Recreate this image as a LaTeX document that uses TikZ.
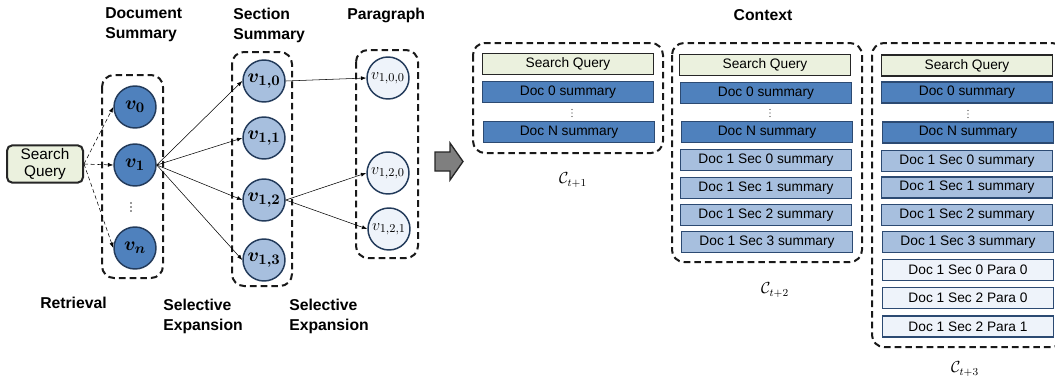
\documentclass[tikz,border=0pt]{standalone}
\usepackage{amsmath,amssymb,bm}
\usepackage{fontspec}
\setmainfont{Liberation Sans}
\usetikzlibrary{arrows.meta,positioning,calc}
\definecolor{sqfill}{HTML}{EBF1DE}
\definecolor{docfill}{HTML}{4F81BD}
\definecolor{secfill}{HTML}{A7BFDE}
\definecolor{parafill}{HTML}{EEF3FA}
\definecolor{rowdraw}{HTML}{2C4A72}
\definecolor{arrowgray}{HTML}{7F7F7F}
\tikzset{
  title/.style={font=\fontsize{11.8}{15}\selectfont\bfseries, align=left, anchor=north west, inner sep=0pt},
  dbox/.style={draw=black!90, line width=1.5pt, dash pattern=on 5pt off 3pt, rounded corners=9pt},
  circ/.style={circle, minimum size=31.5pt, inner sep=0pt, line width=1.1pt, draw=rowdraw!80!black, font=\fontsize{15}{16}\selectfont},
  dcirc/.style={circ, fill=docfill},
  scirc/.style={circ, fill=secfill},
  pcirc/.style={circ, fill=parafill, font=\fontsize{13}{14}\selectfont},
  row/.style={rectangle, minimum width=128pt, minimum height=16pt, inner sep=0pt, line width=1.1pt, draw=rowdraw, font=\fontsize{10.3}{11}\selectfont},
  sqrow/.style={row, fill=sqfill, draw=black!85},
  docrow/.style={row, fill=docfill},
  secrow/.style={row, fill=secfill},
  pararow/.style={row, fill=parafill},
  dashedge/.style={densely dashed, thin, -{Latex[length=4pt,width=3pt]}},
  solidedge/.style={thin, -{Latex[length=4pt,width=3pt]}},
  clabel/.style={font=\large, inner sep=0pt},
  dot/.style={fill=black!80}
}
\begin{document}
\begin{tikzpicture}[x=0.75pt,y=-0.75pt]
\useasboundingbox[fill=white] (0,0) rectangle (1055,379);

% ---------- titles ----------
\node[title] (tdoc) at (105,7) {Document\\Summary};
\node[title] (tsec) at (233,8) {Section\\Summary};
\node[title] (tpara) at (347,8) {Paragraph};
\node[title] (tret) at (40,297) {Retrieval};
\node[title] (tse1) at (163,299) {Selective\\Expansion};
\node[title] (tse2) at (289,299) {Selective\\Expansion};
\node[font=\fontsize{11.8}{15}\selectfont\bfseries, inner sep=0pt] (tctx) at (763,15) {Context};

% ---------- dashed groups (left) ----------
\draw[dbox] (102,75) rectangle (163,278);
\draw[dbox] (232,52) rectangle (292,286);
\draw[dbox] (356,50) rectangle (418,258);

% ---------- search query ----------
\node[rectangle, rounded corners=4pt, draw=black!85, line width=1.5pt, fill=sqfill,
      minimum width=57pt, minimum height=28pt, align=center, inner sep=0pt,
      font=\fontsize{11.5}{13}\selectfont] (sq) at (45,164) {Search\\Query};

% ---------- document nodes ----------
\node[dcirc] (v0) at (135,107) {$\bm{v}_{\bm{0}}$};
\node[dcirc] (v1) at (135,165) {$\bm{v}_{\bm{1}}$};
\coordinate (vd) at (131,207);
\foreach \dy in {-4,0,4} \fill[dot] ($(vd)+(0,\dy)$) circle (0.6pt);
\node[dcirc] (vn) at (135,248) {$\bm{v}_{\bm{n}}$};

% ---------- section nodes ----------
\node[scirc] (v10) at (264,81) {$\bm{v}_{\bm{1,0}}$};
\node[scirc] (v11) at (264,138) {$\bm{v}_{\bm{1,1}}$};
\node[scirc] (v12) at (264,200) {$\bm{v}_{\bm{1,2}}$};
\node[scirc] (v13) at (264,260) {$\bm{v}_{\bm{1,3}}$};

% ---------- paragraph nodes ----------
\node[pcirc] (v100) at (388,78) {$v_{1,0,0}$};
\node[pcirc] (v120) at (388,173) {$v_{1,2,0}$};
\node[pcirc] (v121) at (389,229) {$v_{1,2,1}$};

% ---------- edges ----------
\draw[dashedge] (sq.east) -- (v0.west);
\draw[dashedge] (sq.east) -- (v1.west);
\draw[dashedge] (sq.east) -- (vn.west);
\draw[solidedge] (v1.east) -- (v10.west);
\draw[solidedge] (v1.east) -- (v11.west);
\draw[solidedge] (v1.east) -- (v12.west);
\draw[solidedge] (v1.east) -- (v13.west);
\draw[solidedge] (v10.east) -- (v100.west);
\draw[solidedge] (v12.east) -- (v120.west);
\draw[solidedge] (v12.east) -- (v121.west);

% ---------- block arrow ----------
\draw[fill=arrowgray, draw=black!85, line width=1pt, line join=miter]
  (435,152) -- (450,152) -- (450,143) -- (463,161.5) -- (450,180) -- (450,171) -- (435,171) -- cycle;

% ---------- context C_{t+1} ----------
\draw[dbox] (473,43) rectangle (663,153);
\node[sqrow] (a0) at (568,64) {Search Query};
\node[docrow] (a1) at (568,92) {Doc 0 summary};
\coordinate (ad) at (572,113);
\foreach \dy in {-3.5,0,3.5} \fill[dot] ($(ad)+(0,\dy)$) circle (0.5pt);
\node[docrow] (a2) at (569,132) {Doc N summary};
\node[clabel] (ca) at (573,180) {$\mathcal{C}_{t+1}$};

% ---------- context C_{t+2} ----------
\draw[dbox] (672,43) rectangle (862,262);
\node[sqrow] (b0) at (765,65) {Search Query};
\node[docrow] (b1) at (766,93) {Doc 0 summary};
\coordinate (bd) at (770,113);
\foreach \dy in {-3.5,0,3.5} \fill[dot] ($(bd)+(0,\dy)$) circle (0.5pt);
\node[docrow] (b2) at (767,132) {Doc N summary};
\node[secrow] (b3) at (766,160) {Doc 1 Sec 0 summary};
\node[secrow] (b4) at (766,188) {Doc 1 Sec 1 summary};
\node[secrow] (b5) at (766,215) {Doc 1 Sec 2 summary};
\node[secrow] (b6) at (767,242) {Doc 1 Sec 3 summary};
\node[clabel] (cb) at (775,290) {$\mathcal{C}_{t+2}$};

% ---------- context C_{t+3} ----------
\draw[dbox] (872,43) rectangle (1064,347);
\node[sqrow] (c0) at (967,65.5) {Search Query};
\node[docrow] (c1) at (967,92.5) {Doc 0 summary};
\coordinate (cd) at (968,114);
\foreach \dy in {-3.5,0,3.5} \fill[dot] ($(cd)+(0,\dy)$) circle (0.5pt);
\node[docrow] (c2) at (968,132.5) {Doc N summary};
\node[secrow] (c3) at (967,161) {Doc 1 Sec 0 summary};
\node[secrow] (c4) at (967,187.5) {Doc 1 Sec 1 summary};
\node[secrow] (c5) at (967,215) {Doc 1 Sec 2 summary};
\node[secrow] (c6) at (968,242) {Doc 1 Sec 3 summary};
\node[pararow] (c7) at (968,270) {Doc 1 Sec 0 Para 0};
\node[pararow] (c8) at (968,298) {Doc 1 Sec 2 Para 0};
\node[pararow] (c9) at (968,326.5) {Doc 1 Sec 2 Para 1};
\node[clabel] (cc) at (965,369) {$\mathcal{C}_{t+3}$};
\end{tikzpicture}
\end{document}
